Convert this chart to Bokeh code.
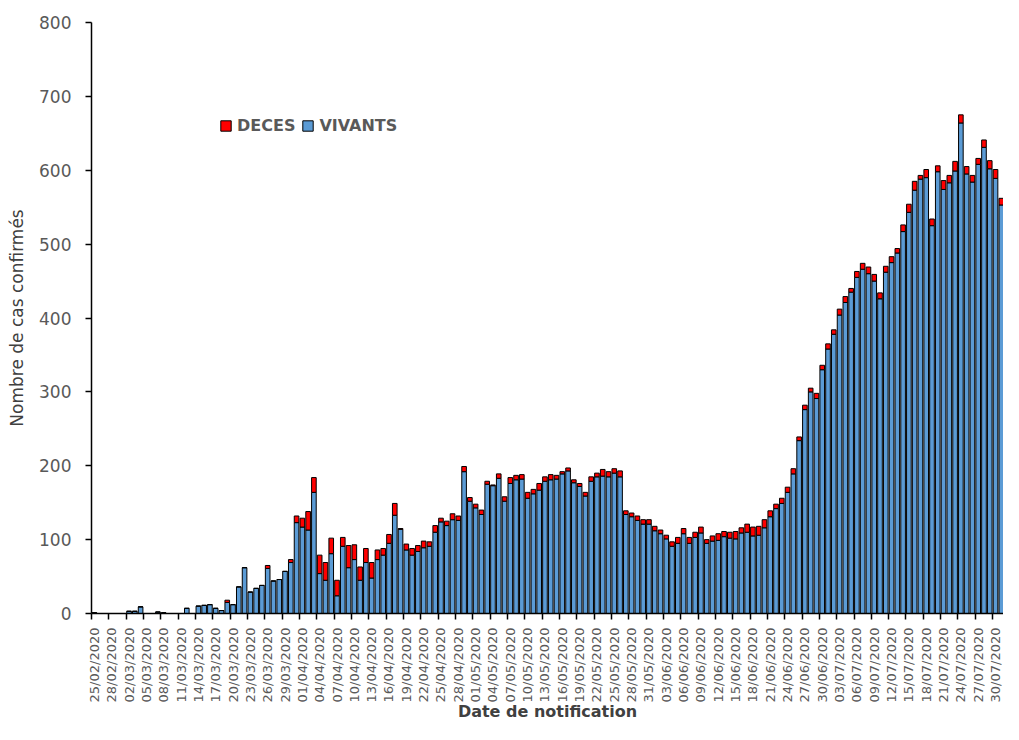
import pandas as pd
from bokeh.plotting import figure
from bokeh.models import Range1d, FixedTicker, Legend, LegendItem, ColumnDataSource
from bokeh.embed import file_html
from bokeh.resources import INLINE

# ---- data (daily confirmed cases by notification date, 25/02/2020 -> 31/07/2020)
start_date = "2020-02-25"
n_days = 158
dates = [d.strftime("%d/%m/%Y") for d in pd.date_range(start_date, periods=n_days, freq="D")]

vivants = [
    1, 0, 0, 0, 0, 0, 3, 3, 9, 0, 0, 2, 1, 0, 0, 0,
    7, 0, 10, 11, 12, 7, 4, 15, 12, 36, 62, 29, 34, 38, 61, 44,
    46, 57, 69, 123, 117, 113, 164, 54, 45, 81, 24, 91, 62, 73, 45, 69,
    48, 73, 79, 95, 133, 114, 86, 79, 84, 89, 91, 110, 124, 119, 127, 126,
    192, 152, 143, 134, 175, 173, 183, 152, 176, 181, 182, 156, 162, 167, 179, 181,
    182, 189, 193, 177, 172, 159, 179, 185, 186, 185, 190, 185, 134, 131, 126, 121,
    121, 112, 108, 101, 91, 95, 108, 95, 103, 109, 95, 98, 99, 104, 102, 101,
    109, 110, 105, 106, 116, 131, 142, 149, 164, 189, 234, 276, 300, 291, 330, 358,
    378, 404, 421, 435, 455, 466, 460, 450, 426, 462, 475, 488, 517, 543, 573, 588,
    590, 525, 598, 574, 583, 599, 664, 595, 584, 608, 631, 602, 589, 553,
]
deces = [
    0, 0, 0, 0, 0, 0, 0, 0, 0, 0, 0, 0, 0, 0, 0, 0,
    0, 0, 0, 0, 0, 0, 0, 3, 0, 0, 0, 0, 0, 0, 4, 0,
    0, 0, 4, 9, 12, 25, 20, 25, 24, 21, 21, 12, 30, 20, 18, 19,
    21, 13, 9, 12, 16, 1, 8, 9, 8, 9, 6, 9, 5, 6, 8, 6,
    7, 5, 5, 6, 4, 1, 6, 6, 8, 6, 6, 8, 6, 9, 6, 7,
    5, 3, 4, 4, 4, 5, 6, 5, 9, 7, 6, 8, 5, 5, 6, 6,
    6, 6, 5, 5, 6, 8, 7, 8, 7, 8, 5, 7, 9, 7, 8, 10,
    7, 11, 12, 12, 11, 8, 6, 7, 7, 7, 5, 6, 5, 7, 6, 7,
    6, 8, 8, 5, 8, 8, 9, 9, 8, 8, 8, 6, 9, 11, 12, 5,
    11, 9, 8, 12, 10, 13, 11, 10, 9, 8, 10, 11, 12, 9,
]
series_names = ["VIVANTS", "DECES"]
series_colors = ["#5B9BD5", "#FF0000"]
y_ticks = [0, 100, 200, 300, 400, 500, 600, 700, 800]
x_title = "Date de notification"
y_title = "Nombre de cas confirmés"

FONT = "DejaVu Sans"
GRAY = "#595959"

x_idx = list(range(n_days))
source = ColumnDataSource(dict(x=x_idx, vivants=vivants, deces=deces))

p = figure(
    width=1003, height=724,
    output_backend="svg", toolbar_location=None,
    x_range=Range1d(-0.5, 157.38), y_range=Range1d(0, 800),
    min_border_left=91, min_border_right=0, min_border_top=22, min_border_bottom=111,
)
p.outline_line_color = None
p.xgrid.visible = False
p.ygrid.visible = False
p.background_fill_color = "white"
p.border_fill_color = "white"

rs = p.vbar_stack(
    ["vivants", "deces"], x="x", width=0.8, source=source,
    fill_color=series_colors, line_color="black", line_width=1,
)

# ---- x axis: labels every 3 days, ticks between categories
label_pos = list(range(0, n_days - 1, 3))
xa = p.xaxis[0]
xa.ticker = FixedTicker(ticks=label_pos, minor_ticks=[k - 0.5 for k in range(0, n_days, 3)])
xa.major_label_overrides = {k: dates[k] for k in label_pos}
xa.major_label_orientation = 1.5707963267948966
xa.major_tick_out = 0
xa.major_tick_in = 0
xa.minor_tick_out = 6
xa.minor_tick_in = 0
xa.minor_tick_line_color = "black"
xa.minor_tick_line_width = 1.5
xa.axis_line_color = "black"
xa.axis_line_width = 1.5
xa.major_label_standoff = 8
xa.major_label_text_font = FONT
xa.major_label_text_font_size = "13px"
xa.major_label_text_color = GRAY
xa.axis_label = x_title
xa.axis_label_text_font = FONT
xa.axis_label_text_font_size = "16px"
xa.axis_label_text_font_style = "bold"
xa.axis_label_text_color = "#404040"
xa.axis_label_standoff = -3

# ---- y axis
ya = p.yaxis[0]
ya.ticker = FixedTicker(ticks=y_ticks)
ya.major_tick_out = 6
ya.major_tick_in = 0
ya.minor_tick_out = 0
ya.minor_tick_in = 0
ya.major_tick_line_width = 1.5
ya.axis_line_color = "black"
ya.axis_line_width = 1.5
ya.major_label_standoff = 14
ya.major_label_text_font = FONT
ya.major_label_text_font_size = "17px"
ya.major_label_text_color = GRAY
ya.axis_label = y_title
ya.axis_label_text_font = FONT
ya.axis_label_text_font_size = "17px"
ya.axis_label_text_font_style = "normal"
ya.axis_label_text_color = "#404040"
ya.axis_label_standoff = 9

# ---- legend
legend = Legend(
    items=[LegendItem(label=series_names[1], renderers=[rs[1]]),
           LegendItem(label=series_names[0], renderers=[rs[0]])],
    location=(128, 478), orientation="horizontal",
    glyph_width=13, glyph_height=13, label_standoff=5, spacing=6,
    padding=0, margin=0, border_line_alpha=0, background_fill_alpha=0,
    label_text_font=FONT, label_text_font_style="bold",
    label_text_color=GRAY, label_text_font_size="16px",
)
p.add_layout(legend)

open("out.html", "w").write(file_html(p, INLINE))
